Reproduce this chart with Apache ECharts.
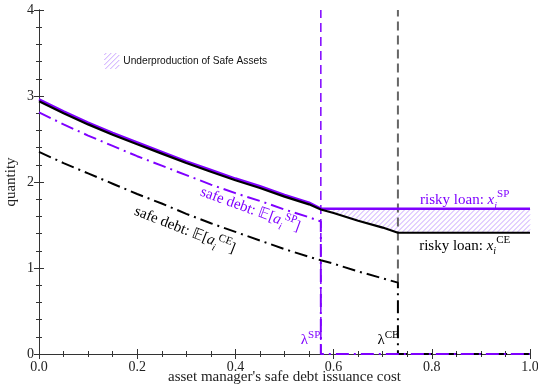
<!DOCTYPE html>
<html>
<head>
    <title></title>
    <meta charset="UTF-8">
    <script type="text/javascript" src="https://cdn.jsdelivr.net/npm/echarts@6/dist/echarts.min.js"></script>
    <style type="text/css">
        html, body { margin: 0; padding: 0; background: #fff; }
        #chart { width: 538px; height: 384px; }
    </style>
</head>
<body>
<div id="chart"></div>
<script type="text/javascript">
    var purple = '#7f00ff';
    var hatchColor = '#c9a3ff';
    var serif = 'Liberation Serif';

    // thresholds on the issuance cost
    var lambdaSP = 0.574;
    var lambdaCE = 0.731;

    // cost grid for the social planner curves (up to lambda SP)
    var costSP = [0, 0.05, 0.1, 0.15, 0.2, 0.25, 0.3, 0.35, 0.4, 0.45, 0.5, 0.55, 0.574];
    var riskySP = [2.96, 2.82, 2.69, 2.57, 2.46, 2.35, 2.24, 2.14, 2.04, 1.95, 1.85, 1.76, 1.69];
    var safeSP = [2.81, 2.67, 2.54, 2.42, 2.30, 2.19, 2.08, 1.97, 1.87, 1.78, 1.68, 1.59, 1.54];
    var riskySPFlat = 1.69;

    // cost grid for the competitive equilibrium curves (up to lambda CE)
    var costCE = [0, 0.05, 0.1, 0.15, 0.2, 0.25, 0.3, 0.35, 0.4, 0.45, 0.5, 0.55, 0.574, 0.6, 0.65, 0.7, 0.731];
    var riskyCE = [2.94, 2.80, 2.67, 2.55, 2.44, 2.33, 2.22, 2.12, 2.02, 1.93, 1.83, 1.74, 1.68, 1.64, 1.55, 1.47, 1.41];
    var safeCE = [2.35, 2.22, 2.10, 1.98, 1.86, 1.75, 1.63, 1.52, 1.42, 1.32, 1.22, 1.13, 1.09, 1.05, 0.96, 0.88, 0.83];
    var riskyCEFlat = 1.41;

    function zip(xs, ys) {
        var out = [];
        for (var i = 0; i < xs.length; i++) out.push([xs[i], ys[i]]);
        return out;
    }

    var riskySPData = zip(costSP, riskySP).concat([[1, riskySPFlat]]);
    var riskyCEData = zip(costCE, riskyCE).concat([[1, riskyCEFlat]]);
    var safeSPData = zip(costSP, safeSP).concat([[lambdaSP, 0], [1, 0]]);
    var safeCEData = zip(costCE, safeCE).concat([[lambdaCE, 0], [1, 0]]);

    // lower edge of the gap between the two risky loans, right of lambda SP
    var gapBottom = [];
    for (var i = 0; i < costCE.length; i++) {
        if (costCE[i] >= lambdaSP) gapBottom.push([costCE[i], riskyCE[i]]);
    }
    gapBottom.push([1, riskyCEFlat]);

    var chart = echarts.init(document.getElementById('chart'));

    var tickLabel = { fontFamily: serif, fontSize: 14, color: '#222' };
    var axisLine = { show: true, lineStyle: { color: '#333', width: 1 } };
    var tick = { inside: true, length: 5, lineStyle: { color: '#333' } };

    // "/" hatch lines between a flat top (pixel y) and a rising-in-pixels bottom polyline
    function hatchLines(bottom, yTop, step) {
        var xL = bottom[0][0], xR = bottom[bottom.length - 1][0];
        var f = function (p) { return p[0] + p[1]; };
        var out = [];
        for (var s = xL + yTop; s <= xR + bottom[bottom.length - 1][1] + step; s += step) {
            if (f(bottom[bottom.length - 1]) < s) break;
            var xb = xL;
            if (f(bottom[0]) < s) {
                for (var j = 1; j < bottom.length; j++) {
                    var a = bottom[j - 1], b = bottom[j];
                    if (f(b) >= s) {
                        var t = (s - f(a)) / (f(b) - f(a));
                        xb = a[0] + t * (b[0] - a[0]);
                        break;
                    }
                }
            }
            var xt = Math.min(xR, s - yTop);
            if (xt > xb) {
                out.push({
                    type: 'line',
                    shape: { x1: xb, y1: s - xb, x2: xt, y2: s - xt },
                    style: { stroke: hatchColor, lineWidth: 1 }
                });
            }
        }
        return out;
    }

    chart.setOption({
        animation: false,
        backgroundColor: '#fff',
        grid: { left: 39, right: 8, top: 10, bottom: 30, containLabel: false, outerBoundsMode: 'none' },
        xAxis: [{
            type: 'value', min: 0, max: 1, interval: 0.2,
            name: "asset manager's safe debt issuance cost",
            nameLocation: 'middle', nameGap: 16, nameMoveOverlap: false,
            nameTextStyle: { fontFamily: serif, fontSize: 15, color: '#222' },
            axisLine: axisLine,
            axisTick: tick,
            minorTick: { show: true, splitNumber: 4, length: 3, lineStyle: { color: '#333' } },
            splitLine: { show: false },
            axisLabel: Object.assign({ margin: 6, formatter: function (v) { return v.toFixed(1); } }, tickLabel)
        }, {
            type: 'value', min: 0, max: 1, interval: 0.2, position: 'top',
            axisLine: axisLine,
            axisTick: tick,
            minorTick: { show: true, splitNumber: 4, length: 3, lineStyle: { color: '#333' } },
            splitLine: { show: false },
            axisLabel: { show: false }
        }],
        yAxis: [{
            type: 'value', min: 0, max: 4, interval: 1,
            name: 'quantity',
            nameLocation: 'middle', nameGap: 20, nameMoveOverlap: false,
            nameTextStyle: { fontFamily: serif, fontSize: 15, color: '#222' },
            axisLine: axisLine,
            axisTick: tick,
            minorTick: { show: true, splitNumber: 5, length: 3, lineStyle: { color: '#333' } },
            splitLine: { show: false },
            axisLabel: Object.assign({ margin: 5 }, tickLabel)
        }, {
            type: 'value', min: 0, max: 4, interval: 1, position: 'right',
            axisLine: axisLine,
            axisTick: tick,
            minorTick: { show: true, splitNumber: 5, length: 3, lineStyle: { color: '#333' } },
            splitLine: { show: false },
            axisLabel: { show: false }
        }],
        series: [{
            name: 'Underproduction of Safe Assets',
            type: 'custom',
            z: 1,
            data: [[lambdaSP, riskySPFlat]],
            renderItem: function (params, api) {
                var bottom = gapBottom.map(function (p) { return api.coord(p); });
                var yTop = api.coord([lambdaSP, riskySPFlat])[1];
                return { type: 'group', children: hatchLines(bottom, yTop, 5) };
            }
        }, {
            name: 'lambda SP',
            type: 'line', z: 2, symbol: 'none',
            data: [[lambdaSP, 0], [lambdaSP, 4]],
            lineStyle: { color: purple, width: 1.5, type: [9, 5] }
        }, {
            name: 'lambda CE',
            type: 'line', z: 2, symbol: 'none',
            data: [[lambdaCE, safeCE[safeCE.length - 1]], [lambdaCE, 4]],
            lineStyle: { color: '#666', width: 2, type: [9, 5] }
        }, {
            name: 'safe debt CE',
            type: 'line', z: 3, symbol: 'none',
            data: safeCEData,
            lineStyle: { color: '#000', width: 2, type: [13, 5, 2, 5] }
        }, {
            name: 'safe debt SP',
            type: 'line', z: 3, symbol: 'none',
            data: safeSPData,
            lineStyle: { color: purple, width: 2, type: [13, 5, 2, 5] }
        }, {
            name: 'risky loan SP',
            type: 'line', z: 4, symbol: 'none',
            data: riskySPData,
            lineStyle: { color: purple, width: 2.5 }
        }, {
            name: 'risky loan CE',
            type: 'line', z: 5, symbol: 'none',
            data: riskyCEData,
            lineStyle: { color: '#000', width: 2.2 }
        }]
    });

    function richStyle(color) {
        return {
            n: { fontFamily: serif, fontSize: 15, color: color, lineHeight: 22 },
            it: { fontFamily: serif, fontSize: 15, fontStyle: 'italic', color: color, lineHeight: 22 },
            sub: { fontFamily: serif, fontSize: 10, fontStyle: 'italic', color: color, verticalAlign: 'bottom', lineHeight: 10 },
            sup: { fontFamily: serif, fontSize: 11, color: color, verticalAlign: 'top', lineHeight: 12 }
        };
    }

    function label(pos, text, color, rot) {
        var p = chart.convertToPixel({ gridIndex: 0 }, pos);
        return {
            type: 'text', x: p[0], y: p[1], rotation: rot || 0, z: 10,
            style: {
                text: text, rich: richStyle(color), fill: color,
                font: '15px ' + serif,
                textAlign: 'center', textVerticalAlign: 'middle',
                align: 'center', verticalAlign: 'middle'
            }
        };
    }

    // legend: small hatched box plus caption
    var lp = chart.convertToPixel({ gridIndex: 0 }, [0.133, 3.5]);
    var boxW = 15, boxH = 16;
    var legendLines = [];
    for (var s = 2; s < boxW + boxH; s += 5) {
        var u0 = Math.max(0, s - boxH), u1 = Math.min(boxW, s);
        legendLines.push({
            type: 'line',
            shape: { x1: lp[0] + u0, y1: lp[1] + s - u0, x2: lp[0] + u1, y2: lp[1] + s - u1 },
            style: { stroke: hatchColor, lineWidth: 1 }
        });
    }

    chart.setOption({
        graphic: [
            label([0.43, 1.68], '{n|safe debt: 𝔼[}{it|a}{sub|i}{sup|SP}{n|]}', purple, -0.35),
            label([0.297, 1.44], '{n|safe debt: 𝔼[}{it|a}{sub|i}{sup|CE}{n|]}', '#000', -0.37),
            label([0.867, 1.79], '{n|risky loan: }{it|x}{sub|i}{sup|SP}', purple, 0),
            label([0.867, 1.26], '{n|risky loan: }{it|x}{sub|i}{sup|CE}', '#000', 0),
            label([0.553, 0.16], '{n|λ}{sup|SP}', purple, 0),
            label([0.711, 0.16], '{n|λ}{sup|CE}', '#000', 0),
            { type: 'group', z: 10, children: legendLines },
            {
                type: 'text', z: 10,
                x: lp[0] + boxW + 4, y: lp[1] + boxH / 2,
                style: {
                    text: 'Underproduction of Safe Assets',
                    font: '10.2px "Liberation Sans"', fill: '#111',
                    textVerticalAlign: 'middle', verticalAlign: 'middle'
                }
            }
        ]
    });
</script>
</body>
</html>
